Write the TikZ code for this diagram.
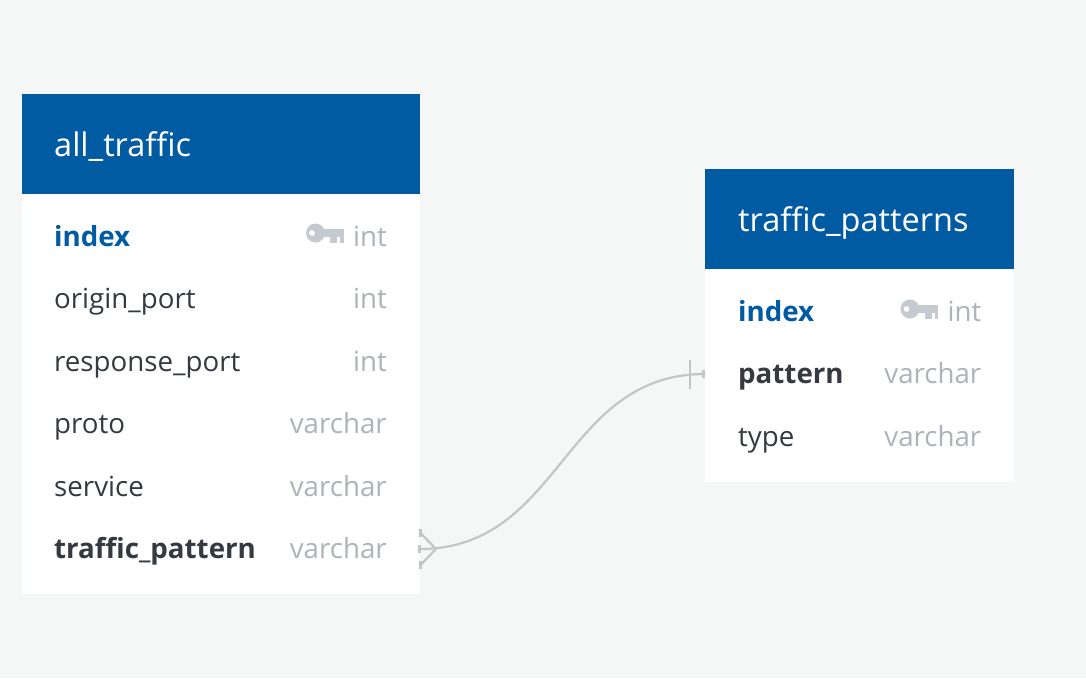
\documentclass[tikz,border=0pt]{standalone}
\usepackage{fontspec}
\setmainfont{Open Sans}
\usetikzlibrary{positioning}
\definecolor{pagebg}{HTML}{F5F7F7}
\definecolor{headblue}{HTML}{005BA2}
\definecolor{rowdark}{HTML}{343A40}
\definecolor{typegrey}{HTML}{ADB3B8}
\definecolor{keygrey}{HTML}{C5CAD0}
\definecolor{linkgrey}{HTML}{C4C6C6}
\tikzset{
	tablebox/.style={fill=white,draw=none,inner sep=0pt,outer sep=0pt,anchor=north west},
	headbox/.style={fill=headblue,draw=none,inner sep=0pt,outer sep=0pt,anchor=north west},
	headtext/.style={text=white,font=\fontsize{32.5}{38}\selectfont,anchor=base west,inner sep=0pt},
	fieldtext/.style={text=rowdark,font=\fontsize{27.7}{32}\selectfont,anchor=base west,inner sep=0pt},
	fieldkey/.style={fieldtext,text=headblue,font=\fontsize{27.7}{32}\selectfont\bfseries},
	fieldbold/.style={fieldtext,font=\fontsize{27.7}{32}\selectfont\bfseries},
	typetext/.style={text=typegrey,font=\fontsize{27.7}{32}\selectfont,anchor=base east,inner sep=0pt},
	link/.style={draw=linkgrey,line width=2.2pt},
	linkend/.style={draw=linkgrey,line width=3pt}
}
\newcommand{\keyicon}[1]{
	\fill[keygrey,even odd rule] (#1)++(-18.5,0) circle (9.5) ++(-3.5,0) circle (3);
	\fill[keygrey] (#1)++(-12,-4.5) rectangle ++(21.5,8.5);
	\fill[keygrey] (#1)++(-4,3) rectangle ++(7,7);
	\fill[keygrey] (#1)++(6,3) rectangle ++(3.5,7);
}
\begin{document}
\begin{tikzpicture}[x=1pt,y=-1pt]
	\useasboundingbox[fill=pagebg] (0,0) rectangle (1086,678);
	% all_traffic table
	\node[tablebox,minimum width=398pt,minimum height=500pt] (trafficbox) at (21.5,94) {};
	\node[headbox,minimum width=398pt,minimum height=100pt] (traffichead) at (21.5,94) {};
	\node[headtext] (traffictitle) at (54,156) {all\_traffic};
	\node[fieldkey] (tindex) at (54,246) {index};
	\node[typetext] (tindextype) at (387,246) {int};
	\node[fieldtext] (torigin) at (54,308) {origin\_port};
	\node[typetext] (torigintype) at (387,308) {int};
	\node[fieldtext] (tresponse) at (54,371) {response\_port};
	\node[typetext] (tresponsetype) at (387,371) {int};
	\node[fieldtext] (tproto) at (54,433) {proto};
	\node[typetext] (tprototype) at (387,433) {varchar};
	\node[fieldtext] (tservice) at (54,496) {service};
	\node[typetext] (tservicetype) at (387,496) {varchar};
	\node[fieldbold] (tpattern) at (54,558) {traffic\_pattern};
	\node[typetext] (tpatterntype) at (387,558) {varchar};
	% traffic_patterns table
	\node[tablebox,minimum width=309pt,minimum height=313pt] (patternbox) at (705,169) {};
	\node[headbox,minimum width=309pt,minimum height=100pt] (patternhead) at (705,169) {};
	\node[headtext] (patterntitle) at (738,231) {traffic\_patterns};
	\node[fieldkey] (pindex) at (738,321) {index};
	\node[typetext] (pindextype) at (981.5,321) {int};
	\node[fieldbold] (ppattern) at (738,383) {pattern};
	\node[typetext] (ppatterntype) at (981.5,383) {varchar};
	\node[fieldtext] (ptype) at (738,446) {type};
	\node[typetext] (ptypetype) at (981.5,446) {varchar};
	% keys
	\coordinate (tkey) at (334,233);
	\coordinate (pkey) at (928.5,309);
	\keyicon{tkey}
	\keyicon{pkey}
	% relation
	\coordinate (fromlink) at (trafficbox.north east |- 0,549);
	\coordinate (tolink) at (patternbox.north west |- 0,374);
	\coordinate (crow) at (436,549);
	\coordinate (crowup) at (420.5,533);
	\coordinate (crowdown) at (420.5,565);
	\coordinate (ticktop) at (690,360);
	\coordinate (tickbottom) at (690,389);
	\draw[link] (fromlink) .. controls (562,549) and (562,374) .. (tolink);
	\draw[link] (crow) -- (crowup);
	\draw[link] (crow) -- (crowdown);
	\draw[link] (ticktop) -- (tickbottom);
	\draw[linkend] (crowup) ++(0,-4) -- ++(0,8);
	\draw[linkend] (fromlink) ++(0,-4) -- ++(0,8);
	\draw[linkend] (crowdown) ++(0,-4) -- ++(0,8);
	\draw[linkend] (tolink) ++(-1.5,-4) -- ++(0,8);
\end{tikzpicture}
\end{document}
